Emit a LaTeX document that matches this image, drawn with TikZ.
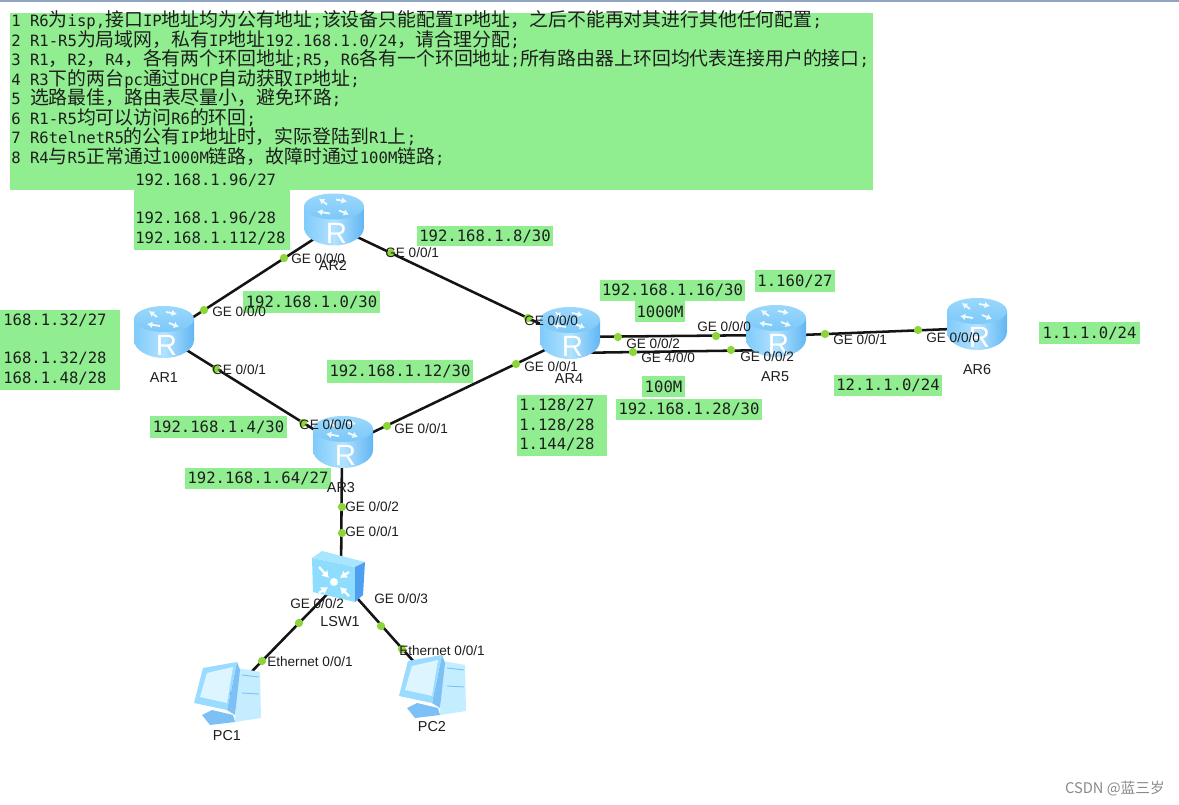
\documentclass[tikz,border=0pt]{standalone}
\usepackage{fontspec}
\usetikzlibrary{arrows.meta,calc}
\setmainfont{Liberation Sans}
\newfontfamily\monof{DejaVu Sans Mono}
\newfontfamily\cjkf{Noto Sans CJK SC}
\newcommand\Z[1]{{\cjkf\fontsize{14.15}{14}\selectfont #1}}
\definecolor{glab}{HTML}{90EE90}
\definecolor{inktxt}{HTML}{1E1E1E}
\definecolor{dotgreen}{HTML}{8CD63A}
\definecolor{rtop}{HTML}{9AD8FC}
\definecolor{rtopb}{HTML}{7CC8F8}
\definecolor{rleft}{HTML}{7FCBFB}
\definecolor{rmid}{HTML}{B2E2FF}
\definecolor{rright}{HTML}{62B6F3}
\definecolor{swtop}{HTML}{A8E6FF}
\definecolor{swfront}{HTML}{8EDDFF}
\definecolor{swside}{HTML}{4F9FF0}
\definecolor{pclight}{HTML}{C4EEFF}
\definecolor{pcscreen}{HTML}{DDF5FF}
\definecolor{pcmid}{HTML}{9ADCFF}
\definecolor{pcdark}{HTML}{7CC0F6}
\definecolor{topbar}{HTML}{8EA4C0}
\definecolor{wmark}{HTML}{8A8A8A}
\tikzset{
  greenbox/.style={fill=glab,inner sep=0pt,outer sep=0pt,font=\monof\fontsize{11.7}{14}\selectfont,text=inktxt},
  monotxt/.style={inner sep=0pt,anchor=west,font=\monof\fontsize{11.7}{14}\selectfont,text=inktxt},
  reqline/.style={inner sep=0pt,anchor=base west,font=\monof\fontsize{11.7}{14}\selectfont,text=inktxt},
  iflabel/.style={inner sep=0pt,anchor=west,font=\fontsize{10.2}{12}\selectfont,text=inktxt},
  devlabel/.style={inner sep=0pt,font=\fontsize{10.8}{13}\selectfont,text=inktxt},
  dev/.style={inner sep=0pt,minimum size=2pt,outer sep=0pt},
  wire/.style={draw=black!92,line width=1.9pt},
  portdot/.style={circle,fill=dotgreen,inner sep=0pt,minimum size=6.2pt},
  routericon/.pic={
    \shade[left color=rleft,right color=rright,middle color=rmid]
      (-30,-13) -- (-30,8) .. controls (-30,18) and (-16,26) .. (0,26)
      .. controls (16,26) and (30,18) .. (30,8) -- (30,-13) -- cycle;
    \shade[top color=rtop,bottom color=rtopb] (0,-13) ellipse [x radius=30,y radius=13];
    \foreach \a/\b/\c/\d in {-7/-15/-15/-21, 2/-20/13/-18, 5/-9/15/-5, -4/-6/-17/-8}{
      \draw[white!85!rtop,line width=1.4pt,-{Latex[length=4pt,width=5pt]}] (\a,\b) -- (\c,\d);
    }
    \node[white,inner sep=0pt,font=\fontsize{22}{22}\selectfont] at (2.5,13.5) {R};
  },
  switchicon/.pic={
    \fill[swtop] (-28,-20) -- (-18,-27) -- (25,-16) -- (15,-11) -- cycle;
    \fill[swfront] (-28,-20) -- (15,-11) -- (15,24) -- (-27,14) -- cycle;
    \fill[swside] (15,-11) -- (25,-16) -- (23,17) -- (15,24) -- cycle;
    \foreach \a/\b/\c/\d in {-21/-11/-11/0, 9/-6/0/0, -21/15/-12/9, 9/18/0/9}{
      \draw[white,line width=1.7pt,-{Latex[length=5pt,width=6.5pt]}] (\a,\b) -- (\c,\d);
    }
    \fill[white] (-6,4) circle [radius=4];
  },
  pcicon/.pic={
    \fill[pclight] (12,-25) -- (34,-21) -- (35,25) -- (9,29) -- cycle;
    \draw[pcdark,line width=0.7pt] (16,-18) -- (33,-16) (16,0) -- (33,1);
    \fill[pcdark] (-24,22) -- (-14,17) -- (7,22) -- (9,29) -- (-16,32) -- cycle;
    \fill[pcdark] (11,-31) -- (14,-23) -- (9,22) -- (1,17) -- cycle;
    \fill[pcmid] (-32,10) -- (-23,-25) -- (11,-31) -- (1,17) -- cycle;
    \fill[pcscreen] (-26,4) -- (-19,-20) -- (7,-26) -- (1,10) -- cycle;
  },
}
\newcommand\glabel[6]{\node[greenbox,minimum width={(#4-#2)*0.75pt},minimum height={(#5-#3)*0.75pt}] (#1) at ({(#2+#4)/2},{(#3+#5)/2}) {#6};}
\begin{document}
\begin{tikzpicture}[x=0.75pt,y=-0.75pt]
\useasboundingbox (0,0) rectangle (1179,805);
\fill[white] (0,0) rectangle (1179,805);
\fill[topbar] (0,0) rectangle (1179,2);
% green panels
\glabel{reqpanel}{10}{13}{873}{190}{}
\glabel{r2panel}{134}{190}{290}{250}{}
\glabel{r1panel}{0}{310}{120}{390}{}
\glabel{r4panel}{517}{395}{607}{456}{}
\glabel{netA}{417}{226}{553}{246}{192.168.1.8/30}
\glabel{netB}{243}{291}{380}{313}{192.168.1.0/30}
\glabel{netC}{600}{280}{745}{301}{192.168.1.16/30}
\glabel{netD}{635}{301}{685}{322}{1000M}
\glabel{netE}{755}{270}{835}{292}{1.160/27}
\glabel{netF}{1039}{322}{1140}{344}{1.1.1.0/24}
\glabel{netG}{327}{360}{473}{383}{192.168.1.12/30}
\glabel{netH}{150}{416}{287}{438}{192.168.1.4/30}
\glabel{netI}{185}{468}{331}{489}{192.168.1.64/27}
\glabel{netJ}{642}{376}{685}{397}{100M}
\glabel{netK}{616}{399}{762}{420}{192.168.1.28/30}
\glabel{netL}{834}{375}{942}{396}{12.1.1.0/24}
% requirement text
\node[reqline] (req1) at (11,27) {1 R6\Z{为}isp,\Z{接口}IP\Z{地址均为公有地址};\Z{该设备只能配置}IP\Z{地址，之后不能再对其进行其他任何配置};};
\node[reqline] (req2) at (11,46.5) {2 R1-R5\Z{为局域网，私有}IP\Z{地址}192.168.1.0/24\Z{，请合理分配};};
\node[reqline] (req3) at (11,66) {3 R1\Z{，}R2\Z{，}R4\Z{，各有两个环回地址};R5\Z{，}R6\Z{各有一个环回地址};\Z{所有路由器上环回均代表连接用户的接口};};
\node[reqline] (req4) at (11,85.5) {4 R3\Z{下的两台}pc\Z{通过}DHCP\Z{自动获取}IP\Z{地址};};
\node[reqline] (req5) at (11,105) {5 \Z{选路最佳，路由表尽量小，避免环路};};
\node[reqline] (req6) at (11,124.5) {6 R1-R5\Z{均可以访问}R6\Z{的环回};};
\node[reqline] (req7) at (11,144) {7 R6telnetR5\Z{的公有}IP\Z{地址时，实际登陆到}R1\Z{上};};
\node[reqline] (req8) at (11,163.7) {8 R4\Z{与}R5\Z{正常通过}1000M\Z{链路，故障时通过}100M\Z{链路};};
% address text in the panels
\node[monotxt] (a1) at (135,180) {192.168.1.96/27};
\node[monotxt] (a2) at (135,218.5) {192.168.1.96/28};
\node[monotxt] (a3) at (135,238.5) {192.168.1.112/28};
\node[monotxt] (b1) at (3,320) {168.1.32/27};
\node[monotxt] (b2) at (3,358.5) {168.1.32/28};
\node[monotxt] (b3) at (3,378) {168.1.48/28};
\node[monotxt] (c1) at (519,405) {1.128/27};
\node[monotxt] (c2) at (519,425) {1.128/28};
\node[monotxt] (c3) at (519,444) {1.144/28};
% devices (connection points)
\node[dev] (r1) at (164,336) {};
\node[dev] (r2) at (334,226) {};
\node[dev] (r3) at (342,447) {};
\node[dev] (r4) at (570,338) {};
\node[dev] (r5) at (776,336) {};
\node[dev] (r6) at (977,328) {};
\node[dev] (sw) at (341,580) {};
\node[dev] (pc1) at (226,698) {};
\node[dev] (pc2) at (431,681) {};
\coordinate (r4hi) at ($(r4)+(0,-1)$);
\coordinate (r5hi) at ($(r5)+(0,-1)$);
\coordinate (r4lo) at ($(r4)+(0,15)$);
\coordinate (r5lo) at ($(r5)+(0,14)$);
% connectors
\draw[wire] (r1) -- (r2);
\draw[wire] (r2) -- (r4);
\draw[wire] (r1) -- (r3);
\draw[wire] (r3) -- (r4);
\draw[wire] (r4hi) -- (r5hi);
\draw[wire] (r4lo) -- (r5lo);
\draw[wire] (r5) -- (r6);
\draw[wire] (r3) -- (sw);
\draw[wire] (sw) -- (pc1);
\draw[wire] (sw) -- (pc2);
% icons
\pic at (164,332) {routericon};
\pic at (334,219.5) {routericon};
\pic at (343,442) {routericon};
\pic at (570,333) {routericon};
\pic at (776,331) {routericon};
\pic at (977,324) {routericon};
\pic at (340,578) {switchicon};
\pic at (226,693) {pcicon};
\pic at (431,686) {pcicon};
% port dots
\node[portdot] (d1) at (204,310) {};
\node[portdot] (d2) at (284,258) {};
\node[portdot] (d3) at (391,253) {};
\node[portdot] (d4) at (528,318) {};
\node[portdot] (d5) at (216,369) {};
\node[portdot] (d6) at (303,423) {};
\node[portdot] (d7) at (387,426) {};
\node[portdot] (d8) at (516,364) {};
\node[portdot] (d9) at (618,337) {};
\node[portdot] (d10) at (716,336) {};
\node[portdot] (d11) at (633,352) {};
\node[portdot] (d12) at (731,350) {};
\node[portdot] (d13) at (825,334) {};
\node[portdot] (d14) at (918,330) {};
\node[portdot] (d15) at (342,507) {};
\node[portdot] (d16) at (342,533) {};
\node[portdot] (d17) at (299,623) {};
\node[portdot] (d18) at (262,661) {};
\node[portdot] (d19) at (381,626) {};
\node[portdot] (d20) at (402,649) {};
% port labels
\node[iflabel] (p1) at (291,259) {GE 0/0/0};
\node[iflabel] (p2) at (385,253) {GE 0/0/1};
\node[iflabel] (p3) at (212,312) {GE 0/0/0};
\node[iflabel] (p4) at (212,370) {GE 0/0/1};
\node[iflabel] (p5) at (524,321) {GE 0/0/0};
\node[iflabel] (p6) at (524,367) {GE 0/0/1};
\node[iflabel] (p7) at (626,344) {GE 0/0/2};
\node[iflabel] (p8) at (641,358) {GE 4/0/0};
\node[iflabel] (p9) at (697,327) {GE 0/0/0};
\node[iflabel] (p10) at (740,357) {GE 0/0/2};
\node[iflabel] (p11) at (833,340) {GE 0/0/1};
\node[iflabel] (p12) at (926,338) {GE 0/0/0};
\node[iflabel] (p13) at (299,425) {GE 0/0/0};
\node[iflabel] (p14) at (394,429) {GE 0/0/1};
\node[iflabel] (p15) at (345,507) {GE 0/0/2};
\node[iflabel] (p16) at (345,532) {GE 0/0/1};
\node[iflabel] (p17) at (290,604) {GE 0/0/2};
\node[iflabel] (p18) at (374,599) {GE 0/0/3};
\node[iflabel] (p19) at (267,662) {Ethernet 0/0/1};
\node[iflabel] (p20) at (399,651) {Ethernet 0/0/1};
% device labels
\node[devlabel] (l1) at (164,378) {AR1};
\node[devlabel] (l2) at (333,265) {AR2};
\node[devlabel] (l3) at (341,488) {AR3};
\node[devlabel] (l4) at (569,379) {AR4};
\node[devlabel] (l5) at (775,377) {AR5};
\node[devlabel] (l6) at (977,370) {AR6};
\node[devlabel] (l7) at (340,622) {LSW1};
\node[devlabel] (l8) at (227,736) {PC1};
\node[devlabel] (l9) at (432,727) {PC2};
\node[inner sep=0pt,anchor=east,text=wmark,font=\cjkf\fontsize{11}{12}\selectfont] (mark) at (1165,789) {CSDN @蓝三岁};
\end{tikzpicture}
\end{document}
